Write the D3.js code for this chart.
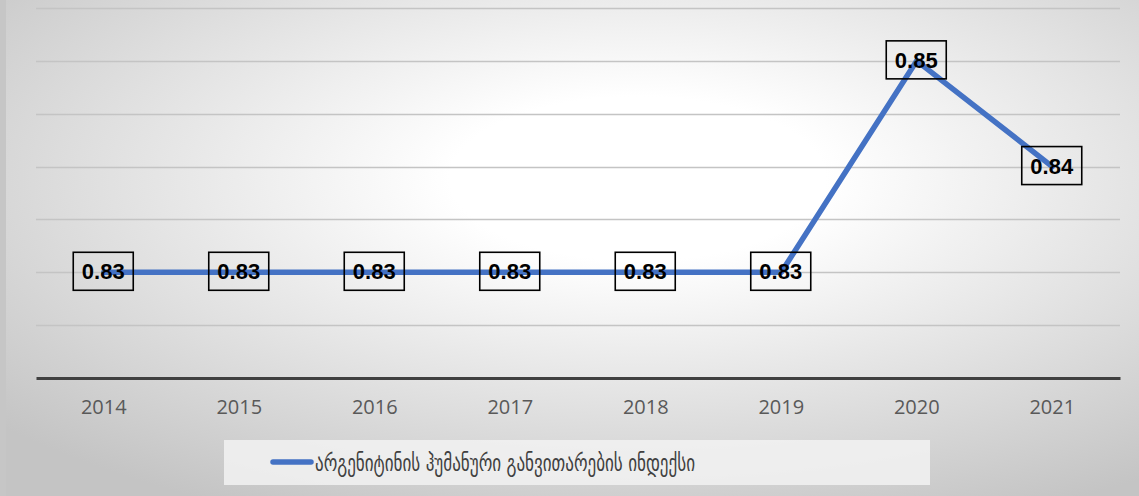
<!DOCTYPE html>
<html><head><meta charset="utf-8">
<script src="https://cdn.jsdelivr.net/npm/d3@7"></script>
<style>html,body{margin:0;padding:0;background:#fff;}svg{display:block;}</style>
</head><body>
<svg id="chart" width="1139" height="496"></svg>
<script>
const years = ["2014","2015","2016","2017","2018","2019","2020","2021"];
const values = [0.83,0.83,0.83,0.83,0.83,0.83,0.85,0.84];
const labels = ["0.83","0.83","0.83","0.83","0.83","0.83","0.85","0.84"];
const gridTicks = [0.825,0.83,0.835,0.84,0.845,0.85,0.855];
const seriesName = "არგენიტინის ჰუმანური განვითარების ინდექსი";

const W = 1139, H = 496;
const svg = d3.select("#chart");
const defs = svg.append("defs");
const grad = defs.append("radialGradient").attr("id","bg")
  .attr("cx",0.56).attr("cy",0.36).attr("r",0.75).attr("fx",0.56).attr("fy",0.36);
grad.append("stop").attr("offset",0).attr("stop-color","#ffffff");
grad.append("stop").attr("offset",0.22).attr("stop-color","#ffffff");
grad.append("stop").attr("offset",1).attr("stop-color","#c4c4c4");
svg.append("rect").attr("width",W).attr("height",H).attr("fill","url(#bg)");
svg.append("rect").attr("x",0).attr("y",0).attr("width",6).attr("height",H).attr("fill","#c6c6c6");

const x = d3.scaleBand().domain(years).range([36,1120]);
const y = d3.scaleLinear().domain([0.82,0.855]).range([378,8]);

// gridlines
svg.append("g").selectAll("line").data(gridTicks).join("line")
  .attr("x1",36).attr("x2",1120)
  .attr("y1",d=>Math.round(y(d))+0.5).attr("y2",d=>Math.round(y(d))+0.5)
  .attr("stroke","#c4c4c4").attr("stroke-width",1.3);

// x axis
const xAxis = svg.append("g").attr("transform",`translate(0,${y(0.82)})`)
  .call(d3.axisBottom(x).tickSize(0).tickPadding(22));
xAxis.select(".domain").attr("stroke","#404040").attr("stroke-width",3);
xAxis.selectAll("text").attr("font-family","'Open Sans', sans-serif")
  .attr("font-size",20).attr("fill","#595959");

const cx = d => x(d) + x.bandwidth()/2;

// line
const line = d3.line().x((d,i)=>cx(years[i])).y(d=>y(d));
svg.append("path").datum(values).attr("d",line)
  .attr("fill","none").attr("stroke","#4472C4").attr("stroke-width",5.5)
  .attr("stroke-linejoin","round").attr("stroke-linecap","round");

// data labels
const lg = svg.append("g").selectAll("g").data(values).join("g")
  .attr("transform",(d,i)=>`translate(${cx(years[i])-0.5},${y(d)-1})`);
lg.append("rect").attr("x",-30).attr("y",-19).attr("width",60).attr("height",38)
  .attr("fill","none").attr("stroke","#000").attr("stroke-width",1.6);
lg.append("text").text((d,i)=>labels[i]).attr("text-anchor","middle").attr("dy","0.37em")
  .attr("font-family","'Liberation Sans', Arial, sans-serif").attr("font-weight","bold")
  .attr("font-size",22).attr("fill","#000");

// legend
const leg = svg.append("g");
leg.append("rect").attr("x",224).attr("y",440).attr("width",706).attr("height",45)
  .attr("fill","#f2f2f2").attr("fill-opacity",0.85);
leg.append("line").attr("x1",273).attr("x2",311).attr("y1",462).attr("y2",462)
  .attr("stroke","#4472C4").attr("stroke-width",5.5).attr("stroke-linecap","round");
leg.append("text").text(seriesName).attr("x",315).attr("y",463).attr("dy","0.35em")
  .attr("font-family","'DejaVu Sans', sans-serif").attr("font-size",23).attr("fill","#404040")
  .attr("textLength",380).attr("lengthAdjust","spacingAndGlyphs");
</script>
</body></html>
